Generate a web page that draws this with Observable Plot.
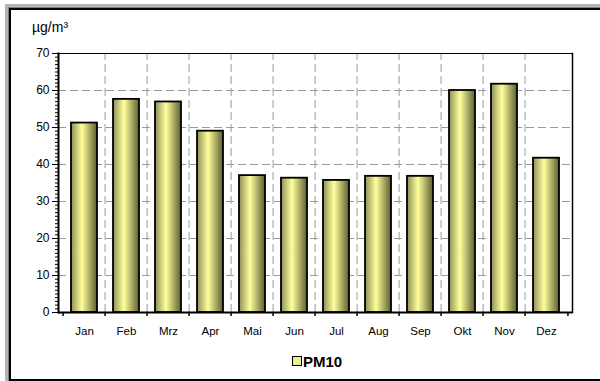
<!DOCTYPE html>
<html>
<head>
<meta charset="utf-8">
<script src="https://cdn.jsdelivr.net/npm/d3@7"></script>
<script src="https://cdn.jsdelivr.net/npm/@observablehq/plot@0.6"></script>
<style>
  html, body { margin: 0; padding: 0; background: #fff; }
  #wrap { position: relative; width: 600px; height: 381px; overflow: hidden; font-family: "Liberation Sans", Arial, sans-serif; }
  .abs { position: absolute; }
</style>
</head>
<body>
<div id="wrap">
  <div class="abs" style="left:5px;top:4px;width:3px;height:377px;background:#b4b4b4;"></div>
  <div class="abs" style="left:8px;top:7px;width:1px;height:374px;background:#808080;"></div>
  <div class="abs" style="left:5px;top:4px;width:595px;height:3px;background:#b4b4b4;"></div>
  <div class="abs" style="left:8px;top:7px;width:592px;height:1px;background:#808080;"></div>
  <div class="abs" style="left:9px;top:8px;right:0;bottom:0;border-left:2px solid #000;border-top:2px solid #000;border-bottom:2px solid #000;box-sizing:border-box;"></div>
  <div id="chart" class="abs" style="left:0;top:0;"></div>
  <div class="abs" style="left:32px;top:19px;font-size:14px;line-height:16px;color:#000;">µg/m³</div>
  <div class="abs" style="left:292px;top:356px;width:8px;height:8px;border:1px solid #000;background:#eeee90;"></div>
  <div class="abs" style="left:303px;top:353px;font-size:15px;line-height:17px;font-weight:bold;color:#000;">PM10</div>
</div>
<script>
const months = ["Jan","Feb","Mrz","Apr","Mai","Jun","Jul","Aug","Sep","Okt","Nov","Dez"];
const pm10 = [51.2, 57.6, 56.9, 49.0, 37.0, 36.3, 35.7, 36.8, 36.8, 60.0, 61.7, 41.7];
const yTicks = [0, 10, 20, 30, 40, 50, 60, 70];
const seriesName = "PM10";

const data = months.map((m, i) => ({month: m, value: pm10[i], series: seriesName}));

const W = 600, H = 381, mL = 58, mR = 28, mT = 53, mB = 69;
const half = (W - mL - mR) / months.length / 2;

const chart = Plot.plot({
  width: W, height: H,
  marginLeft: mL, marginRight: mR, marginTop: mT, marginBottom: mB,
  style: {fontFamily: "'Liberation Sans', Arial, sans-serif", fontSize: "11.5px", background: "transparent", color: "#000"},
  x: {domain: months, paddingInner: 0.39, paddingOuter: 0.195, label: null},
  y: {domain: [0, 70], label: null},
  marks: [
    Plot.ruleY(yTicks.filter(t => t > 0 && t < 70), {stroke: "#9a9a9a", strokeWidth: 1, strokeDasharray: "8,4"}),
    Plot.ruleX(months.slice(1), {x: d => d, dx: -half, y1: 0, y2: 70, stroke: "#9a9a9a", strokeWidth: 1, strokeDasharray: "8,4"}),
    Plot.barY(data, {x: "month", y: "value", fill: "url(#pmgrad)", stroke: "#000", strokeWidth: 1.8}),
    Plot.frame({anchor: "top", stroke: "#000", strokeWidth: 1}),
    Plot.frame({anchor: "right", stroke: "#000", strokeWidth: 1.5}),
    Plot.frame({anchor: "left", stroke: "#000", strokeWidth: 2}),
    Plot.ruleY([0], {stroke: "#000", strokeWidth: 2}),
    Plot.axisY({ticks: d3.range(0, 71, 1), tickSize: 3, tickFormat: () => "", label: null}),
    Plot.axisY({ticks: yTicks, tickSize: 6, tickPadding: 3, label: null, fontSize: 12}),
    Plot.ruleX(months, {x: d => d, dx: -half, y1: 0, y2: 0, insetBottom: -4, stroke: "#000", strokeWidth: 1.5}),
    Plot.ruleX(months.slice(-1), {x: d => d, dx: half, y1: 0, y2: 0, insetBottom: -4, stroke: "#000", strokeWidth: 1.5}),
    Plot.axisX({tickSize: 0, tickPadding: 14, label: null, fontSize: 11.5})
  ]
});

const svg = d3.select(chart);
const defs = svg.insert("defs", ":first-child");
const g = defs.append("linearGradient").attr("id", "pmgrad").attr("x1", "0").attr("x2", "1").attr("y1", "0").attr("y2", "0");
g.append("stop").attr("offset", "0%").attr("stop-color", "#8e8e58");
g.append("stop").attr("offset", "42%").attr("stop-color", "#ffff9c");
g.append("stop").attr("offset", "100%").attr("stop-color", "#5e5e30");

document.getElementById("chart").appendChild(chart);
</script>
</body>
</html>
